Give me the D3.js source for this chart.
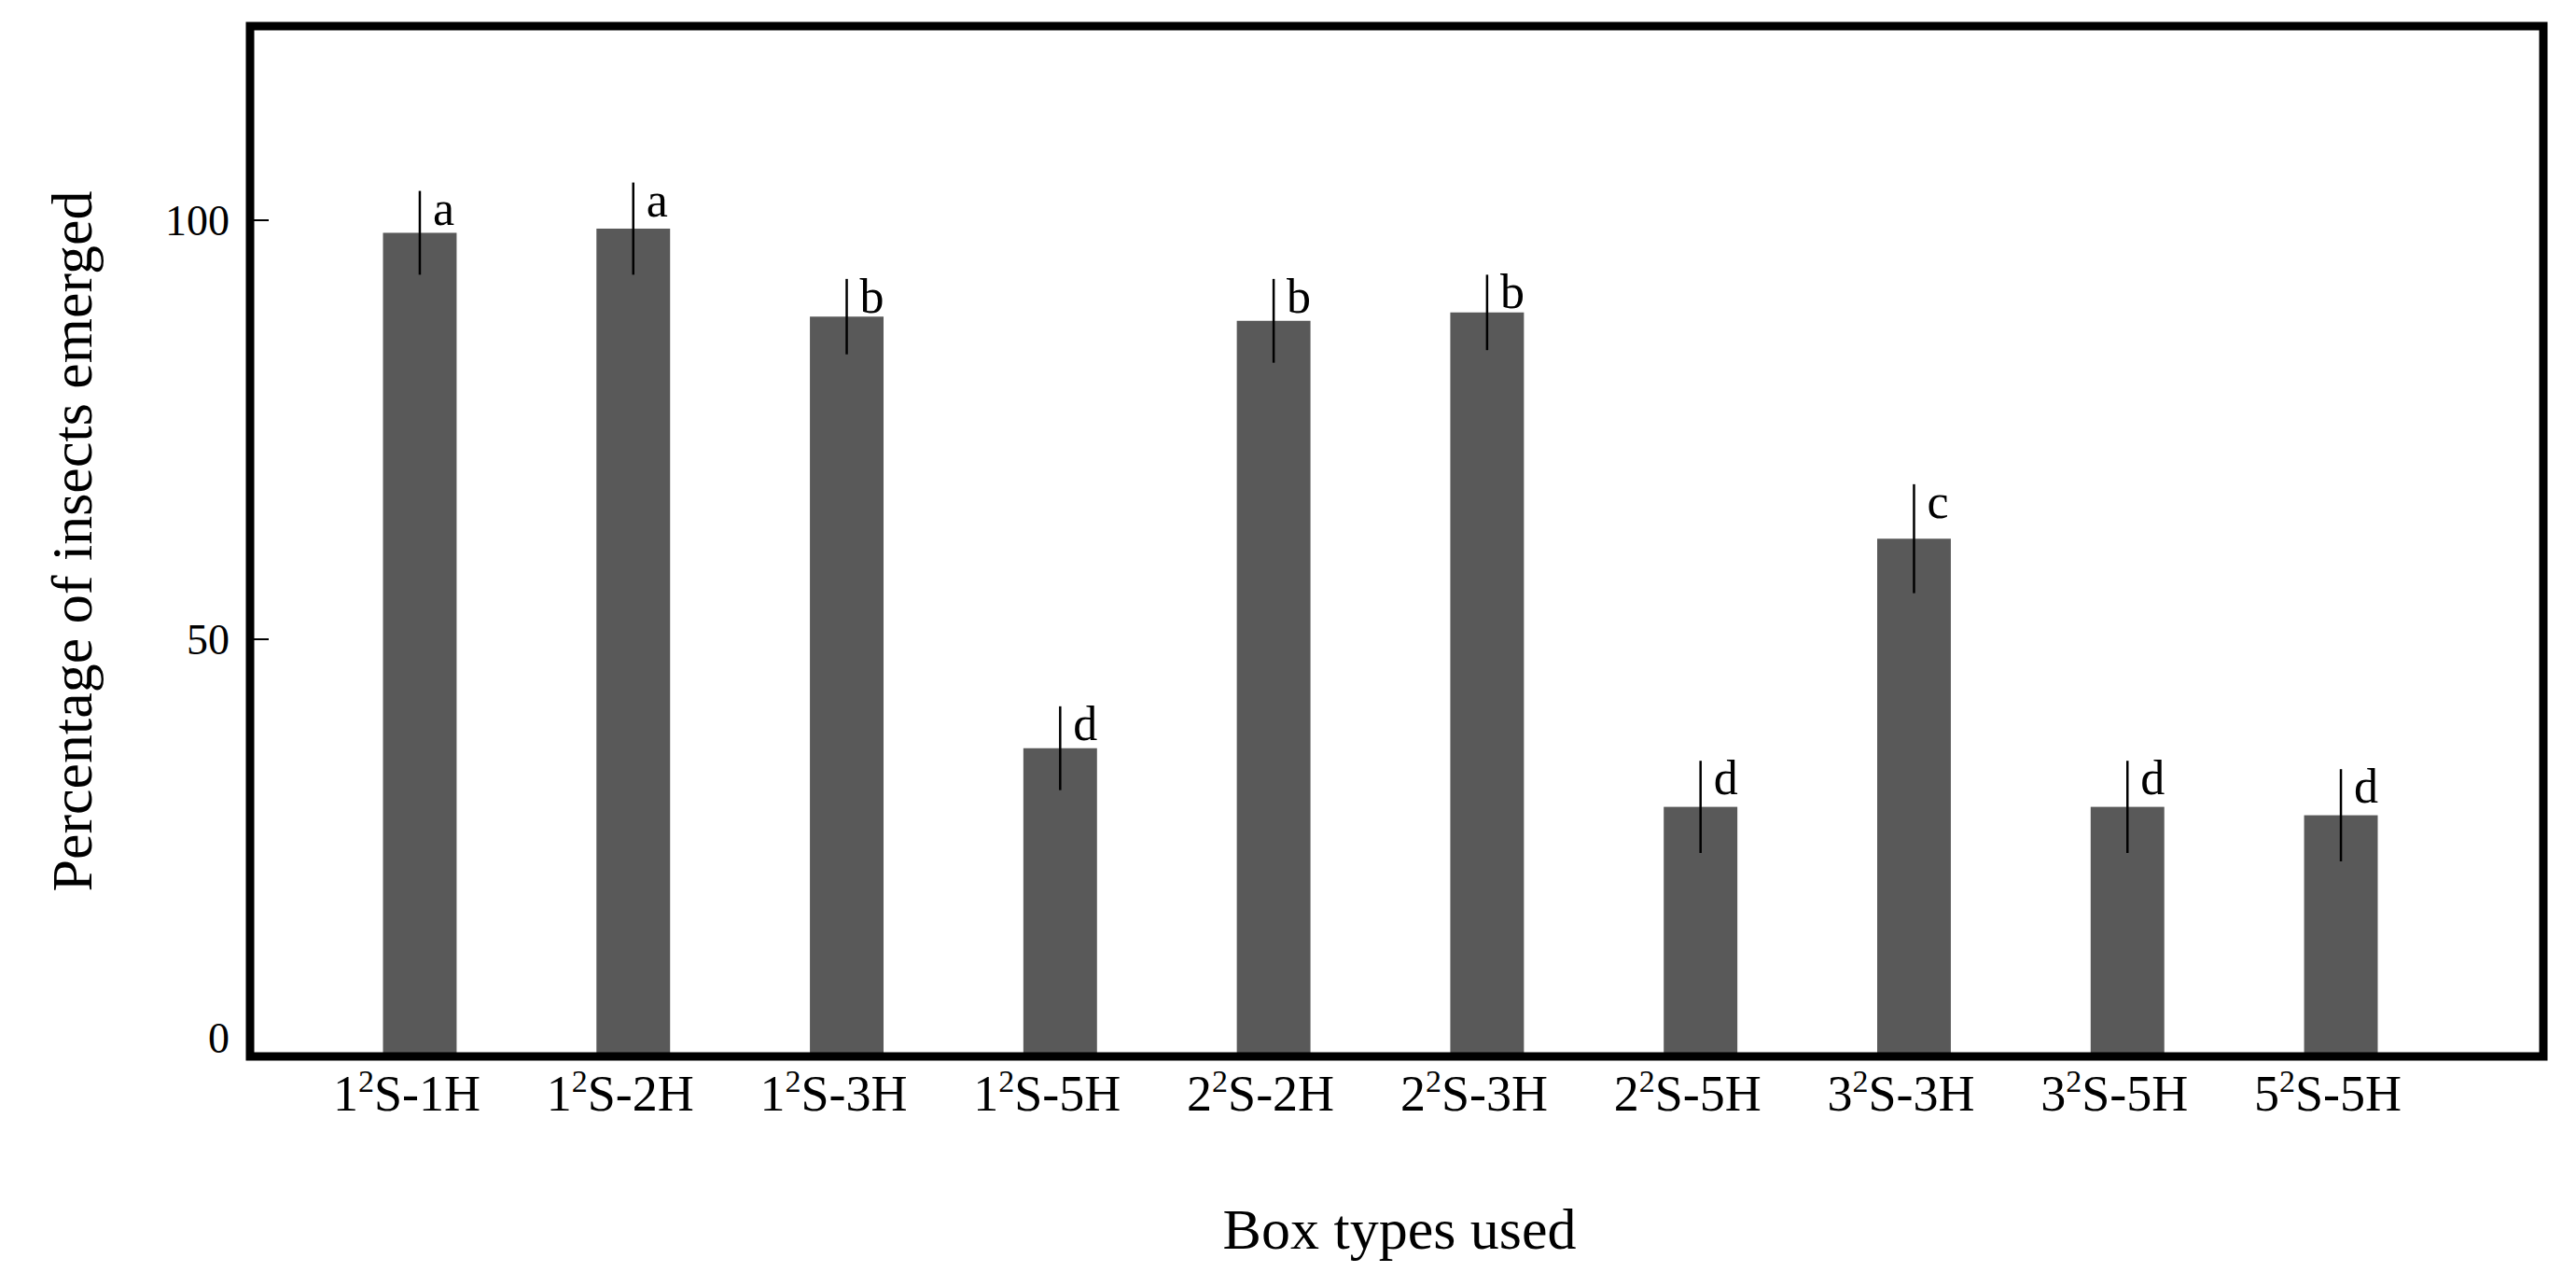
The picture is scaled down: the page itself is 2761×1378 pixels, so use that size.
<!DOCTYPE html>
<html><head><meta charset="utf-8">
<script src="https://cdn.jsdelivr.net/npm/d3@7"></script>
<style>body{margin:0;background:#fff}text{font-family:"Liberation Serif","DejaVu Serif",serif}</style>
</head><body><div id="chart"></div>
<script>
var categories = [["1","2","S-1H"],["1","2","S-2H"],["1","2","S-3H"],["1","2","S-5H"],["2","2","S-2H"],
                  ["2","2","S-3H"],["2","2","S-5H"],["3","2","S-3H"],["3","2","S-5H"],["5","2","S-5H"]];
var values = [98.5, 99, 88.5, 37, 88, 89, 30, 62, 30, 29];
var errors = [5, 5.5, 4.5, 5, 5, 4.5, 5.5, 6.5, 5.5, 5.5];
var letters = ["a","a","b","d","b","b","d","c","d","d"];
var yTicks = [0, 50, 100];

var W = 2761, H = 1378;
var frameL = 268, frameR = 2726, frameT = 28, frameB = 1132;

var svg = d3.select("#chart").append("svg").attr("width", W).attr("height", H);

var x = d3.scaleBand().domain(d3.range(categories.length)).range([335, 2624]).paddingInner(0.655).paddingOuter(0.33);
var y = d3.scaleLinear().domain([0, 100]).range([1134, 236]);

// bars
svg.selectAll(".bar").data(values).enter().append("rect")
    .attr("x", function(d, i) { return x(i); })
    .attr("y", function(d) { return y(d); })
    .attr("width", x.bandwidth())
    .attr("height", function(d) { return y(0) - y(d); })
    .style("fill", "#595959");

// error bars
svg.selectAll(".err").data(values).enter().append("line")
    .attr("x1", function(d, i) { return x(i) + x.bandwidth() / 2; })
    .attr("x2", function(d, i) { return x(i) + x.bandwidth() / 2; })
    .attr("y1", function(d, i) { return y(d - errors[i]); })
    .attr("y2", function(d, i) { return y(d + errors[i]); })
    .style("stroke", "#000").style("stroke-width", 2.5);

// significance letters
svg.selectAll(".lett").data(values).enter().append("text")
    .attr("x", function(d, i) { return x(i) + x.bandwidth() / 2 + 14; })
    .attr("y", function(d, i) { return y(d + errors[i]) + 36; })
    .style("font-size", "52px")
    .text(function(d, i) { return letters[i]; });

// frame
svg.append("rect").attr("x", frameL).attr("y", frameT).attr("width", frameR - frameL).attr("height", frameB - frameT)
    .style("fill", "none").style("stroke", "#000").style("stroke-width", 9);

// y axis ticks
var yAxis = svg.append("g");
yAxis.selectAll("line").data(yTicks).enter().append("line")
    .attr("x1", frameL).attr("x2", frameL + 20)
    .attr("y1", function(d) { return y(d); }).attr("y2", function(d) { return y(d); })
    .style("stroke", "#000").style("stroke-width", 2);
yAxis.selectAll("text").data(yTicks).enter().append("text")
    .attr("x", 246).attr("y", function(d) { return d === 0 ? y(d) - 6 : y(d) + 16; })
    .attr("text-anchor", "end").style("font-size", "46px")
    .text(function(d) { return d; });

// x labels
var xl = svg.selectAll(".xl").data(categories).enter().append("text")
    .attr("x", function(d, i) { return x(i) + x.bandwidth() / 2 - 14; })
    .attr("y", 1190).attr("text-anchor", "middle").style("font-size", "54px");
xl.append("tspan").text(function(d) { return d[0]; });
xl.append("tspan").attr("dy", -20).style("font-size", "34px").text(function(d) { return d[1]; });
xl.append("tspan").attr("dy", 20).text(function(d) { return d[2]; });

// titles
svg.append("text").attr("x", 1500).attr("y", 1338).attr("text-anchor", "middle")
    .style("font-size", "62px").text("Box types used");
svg.append("text").attr("transform", "translate(98,580) rotate(-90)").attr("text-anchor", "middle")
    .style("font-size", "62px").text("Percentage of insects emerged");
</script></body></html>
